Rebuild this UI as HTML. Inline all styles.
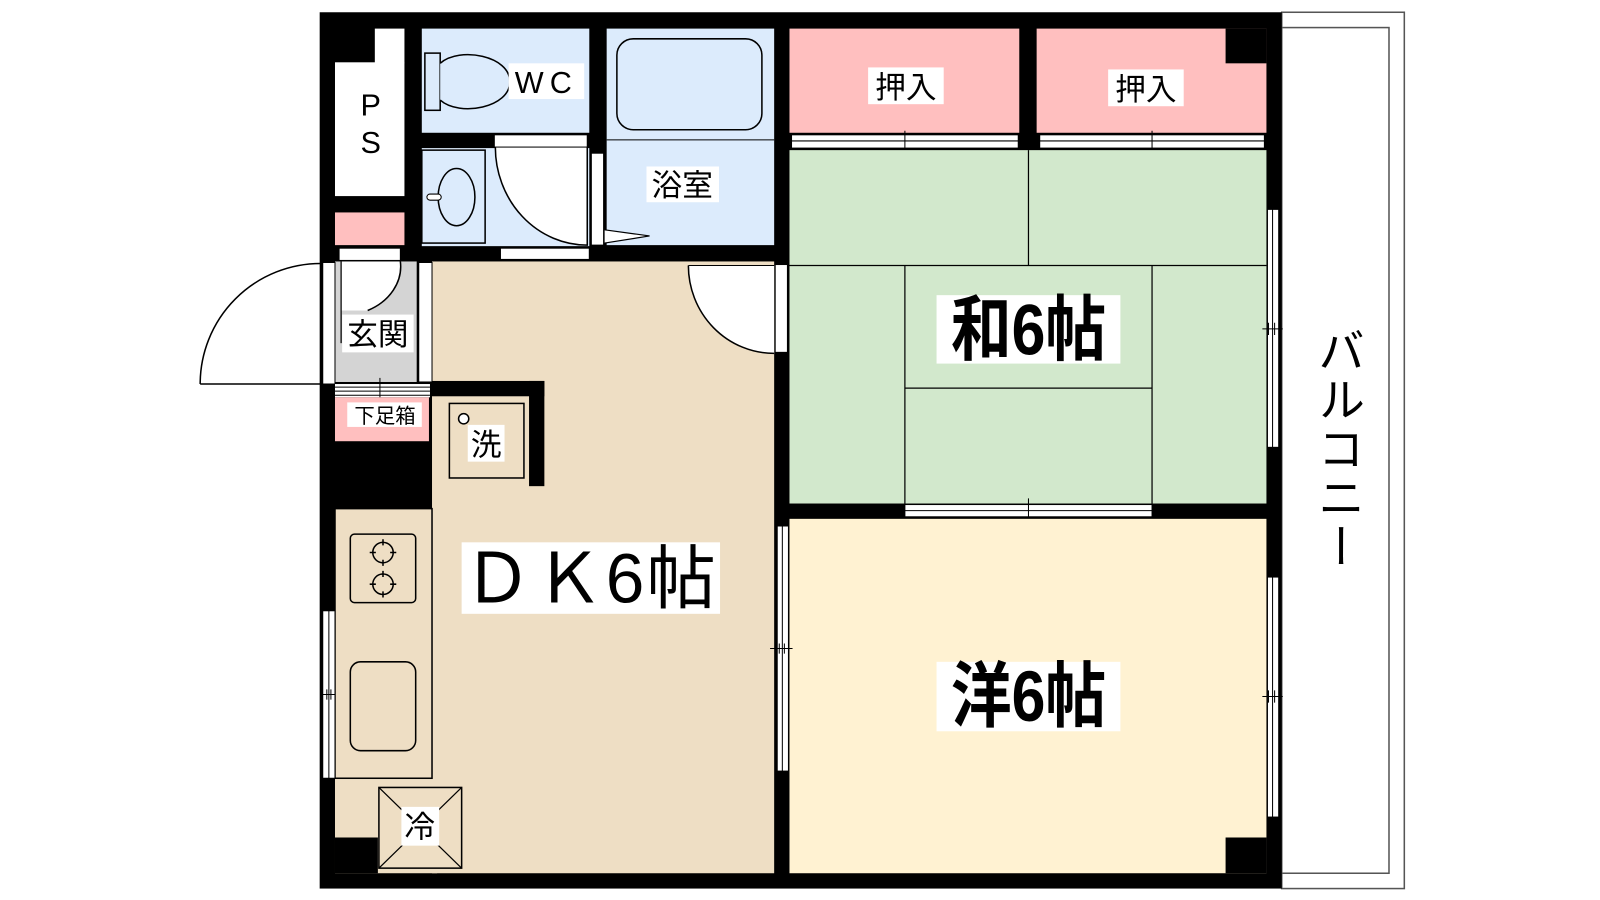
<!DOCTYPE html>
<html><head><meta charset="utf-8"><style>
html,body{margin:0;padding:0;background:#fff;}
svg{display:block;}
text{font-family:"Liberation Sans","Noto Sans CJK JP",sans-serif;fill:#000;}
</style></head><body>
<svg width="1600" height="900" viewBox="0 0 1566.6 881.2" preserveAspectRatio="none" xmlns="http://www.w3.org/2000/svg">
<rect width="1566.6" height="881.2" fill="#fff"/>
<rect x="1255" y="12" width="120" height="858" fill="#fff" stroke="#555" stroke-width="1.5"/>
<rect x="1255" y="27" width="105" height="828" fill="#fff" stroke="#555" stroke-width="1.5"/>
<rect x="313" y="12" width="942" height="858" fill="#000"/>
<rect x="328" y="61" width="68" height="131" fill="#fff"/>
<rect x="367" y="28" width="29" height="34" fill="#fff"/>
<rect x="328" y="208" width="68" height="32" fill="#FFBFBF"/>
<rect x="332" y="243" width="60" height="12" fill="#fff" stroke="#000" stroke-width="1"/>
<rect x="413" y="28" width="164" height="102" fill="#DCEBFC"/>
<rect x="413" y="145" width="164" height="96" fill="#DCEBFC"/>
<path d="M485 144 A90 96 0 0 0 575 240 L575 144 Z" fill="#fff"/>
<rect x="413" y="147" width="62" height="91" fill="#DCEBFC" stroke="#000" stroke-width="1.5"/>
<ellipse cx="447" cy="193" rx="18" ry="28" fill="none" stroke="#000" stroke-width="1.5"/>
<rect x="418" y="190" width="14" height="6" rx="3" fill="#fff" stroke="#000"/>
<rect x="484" y="132" width="91" height="12" fill="#fff" stroke="#000" stroke-width="1"/>
<path d="M485 144 A90 96 0 0 0 575 240 L575 144" fill="none" stroke="#000" stroke-width="1.5"/>
<rect x="490" y="243" width="87" height="11" fill="#fff" stroke="#000" stroke-width="1"/>
<rect x="416" y="52" width="15" height="56" fill="#DCEBFC" stroke="#000" stroke-width="1.5"/>
<path d="M431 62 C450 45 500 55 499 80 C500 105 450 115 431 98" fill="#DCEBFC" stroke="#000" stroke-width="1.5"/>
<rect x="498" y="62" width="74" height="35" fill="#fff"/>
<text x="535" y="91" font-size="30" text-anchor="middle" letter-spacing="6">WC</text>
<rect x="594" y="28" width="164" height="212" fill="#DCEBFC"/>
<line x1="594" y1="137" x2="758" y2="137" stroke="#000" stroke-width="1"/>
<rect x="604" y="38" width="142" height="89" rx="16" fill="none" stroke="#000" stroke-width="1.5"/>
<rect x="579" y="150" width="12" height="90" fill="#fff" stroke="#000" stroke-width="1"/>
<path d="M592 225 L636 231 L592 238" fill="#fff" stroke="#000" stroke-width="1.2"/>
<rect x="633" y="163" width="71" height="35" fill="#fff"/>
<text x="668" y="192" font-size="30" text-anchor="middle">浴室</text>
<rect x="423" y="256" width="335" height="599" fill="#EEDEC4"/>
<rect x="328" y="498" width="100" height="357" fill="#EEDEC4"/>
<rect x="328" y="820" width="42" height="35" fill="#000"/>
<rect x="436" y="388" width="82" height="115" fill="#EEDEC4"/>
<rect x="518" y="373" width="15" height="103" fill="#000"/>
<rect x="421" y="373" width="112" height="15" fill="#000"/>
<rect x="440" y="395" width="73" height="73" fill="none" stroke="#000" stroke-width="1.5"/>
<circle cx="454" cy="410" r="5" fill="#fff" stroke="#000" stroke-width="1.5"/>
<rect x="458" y="416" width="36" height="36" fill="#fff"/>
<text x="476" y="446" font-size="30" text-anchor="middle">洗</text>
<rect x="328" y="498" width="95" height="264" fill="none" stroke="#000" stroke-width="1.5"/>
<rect x="343" y="523" width="64" height="67" rx="4" fill="none" stroke="#000" stroke-width="1.5"/>
<circle cx="375" cy="541" r="10" fill="none" stroke="#000" stroke-width="1.5"/>
<circle cx="375" cy="572" r="10" fill="none" stroke="#000" stroke-width="1.5"/>
<path d="M375 528v6M375 548v6M362 541h6M382 541h6M375 559v6M375 579v6M362 572h6M382 572h6" stroke="#000" stroke-width="1.5"/>
<rect x="343" y="648" width="64" height="87" rx="10" fill="none" stroke="#000" stroke-width="1.5"/>
<rect x="316" y="598" width="12" height="164" fill="#fff" stroke="#000" stroke-width="1"/>
<line x1="322" y1="598" x2="322" y2="762" stroke="#000"/>
<path d="M314 680h14M320 675v10M324 675v10" stroke="#000"/>
<rect x="371" y="771" width="81" height="79" fill="#EEDEC4" stroke="#000" stroke-width="1.5"/>
<path d="M371 771 L452 850 M452 771 L371 850" stroke="#000" stroke-width="1.2"/>
<rect x="393" y="790" width="37" height="38" fill="#fff"/>
<text x="411" y="820" font-size="30" text-anchor="middle">冷</text>
<rect x="452" y="531" width="253" height="70" fill="#fff"/>
<text x="578" y="590" font-size="68" text-anchor="middle" letter-spacing="2">ＤＫ6帖</text>
<rect x="328" y="256" width="80" height="118" fill="#D4D4D4"/>
<rect x="316" y="257" width="12" height="119" fill="#fff" stroke="#000" stroke-width="1"/>
<rect x="410" y="257" width="13" height="117" fill="#fff" stroke="#000" stroke-width="1"/>
<path d="M196 376 A118 118 0 0 1 314 258" fill="none" stroke="#000" stroke-width="1.5"/>
<line x1="196" y1="376" x2="316" y2="376" stroke="#000" stroke-width="1.5"/>
<path d="M334 256 L392 256 A58 48 0 0 1 360 304 L334 304 Z" fill="#fff"/>
<path d="M392 256 A58 48 0 0 1 360 304" fill="none" stroke="#000" stroke-width="1.5"/>
<line x1="334" y1="256" x2="334" y2="336" stroke="#000" stroke-width="1.2"/>
<rect x="335" y="308" width="70" height="37" fill="#fff"/>
<text x="370" y="338" font-size="30" text-anchor="middle">玄関</text>
<rect x="328" y="376" width="93" height="13" fill="#fff"/>
<path d="M328 379h93M328 383h93M328 387h93" stroke="#000" stroke-width="1"/>
<line x1="372" y1="370" x2="372" y2="392" stroke="#000"/>
<rect x="328" y="389" width="92" height="43" fill="#FFBFBF"/>
<rect x="340" y="394" width="73" height="24" fill="#fff"/>
<text x="377" y="414" font-size="20" text-anchor="middle">下足箱</text>
<path d="M674 260 L758 260 L758 346 A84 86 0 0 1 674 260 Z" fill="#fff"/>
<path d="M674 260 A84 86 0 0 0 758 346" fill="none" stroke="#000" stroke-width="1.5"/>
<line x1="674" y1="260" x2="758" y2="260" stroke="#000" stroke-width="1"/>
<rect x="759" y="259" width="12" height="86" fill="#fff" stroke="#000" stroke-width="1"/>
<rect x="773" y="28" width="225" height="102" fill="#FFBFBF"/>
<rect x="1015" y="28" width="225" height="102" fill="#FFBFBF"/>
<rect x="1200" y="28" width="40" height="34" fill="#000"/>
<rect x="775" y="132" width="222" height="13" fill="#fff" stroke="#000" stroke-width="1"/>
<rect x="1018" y="132" width="220" height="13" fill="#fff" stroke="#000" stroke-width="1"/>
<path d="M775 138h222M1018 138h220M878 138h16M1120 138h16M886 128v24M1128 128v24" stroke="#000" stroke-width="1"/>
<rect x="850" y="66" width="74" height="36" fill="#fff"/>
<text x="887" y="96" font-size="30" text-anchor="middle">押入</text>
<rect x="1085" y="68" width="74" height="36" fill="#fff"/>
<text x="1122" y="98" font-size="30" text-anchor="middle">押入</text>
<rect x="773" y="147" width="467" height="346" fill="#D2E8CC"/>
<path d="M773 260H1240M1007 147V260M886 260V493M1128 260V493M886 380H1128" stroke="#000" stroke-width="1.2"/>
<rect x="1241" y="205" width="11" height="233" fill="#fff" stroke="#000" stroke-width="1"/>
<line x1="1246" y1="205" x2="1246" y2="438" stroke="#000"/>
<path d="M1236 322h20M1242 316v12M1248 316v12" stroke="#000"/>
<rect x="917" y="289" width="180" height="67" fill="#fff"/>
<text x="1007" y="347" font-size="70" font-weight="bold" text-anchor="middle" transform="translate(1007 0) scale(0.85 1) translate(-1007 0)">和6帖</text>
<rect x="886" y="494" width="242" height="12" fill="#fff" stroke="#000" stroke-width="1"/>
<path d="M886 500h242M999 500h16M1007 488v24" stroke="#000" stroke-width="1"/>
<rect x="773" y="508" width="467" height="347" fill="#FFF2D2"/>
<rect x="1200" y="820" width="40" height="35" fill="#000"/>
<rect x="761" y="515" width="11" height="240" fill="#fff" stroke="#000" stroke-width="1"/>
<line x1="766" y1="515" x2="766" y2="755" stroke="#000"/>
<path d="M754 635h22M763 630v10M768 630v10" stroke="#000"/>
<rect x="1241" y="565" width="11" height="235" fill="#fff" stroke="#000" stroke-width="1"/>
<line x1="1246" y1="565" x2="1246" y2="800" stroke="#000"/>
<path d="M1236 682h20M1242 676v12M1248 676v12" stroke="#000"/>
<rect x="917" y="648" width="180" height="68" fill="#fff"/>
<text x="1007" y="706" font-size="70" font-weight="bold" text-anchor="middle" transform="translate(1007 0) scale(0.85 1) translate(-1007 0)">洋6帖</text>
<text x="363" y="113" font-size="30" text-anchor="middle">P</text>
<text x="363" y="150" font-size="30" text-anchor="middle">S</text>
<text x="1310" y="320" font-size="46" style="writing-mode:vertical-rl;" letter-spacing="2">バルコニー</text>
</svg>
</body></html>
